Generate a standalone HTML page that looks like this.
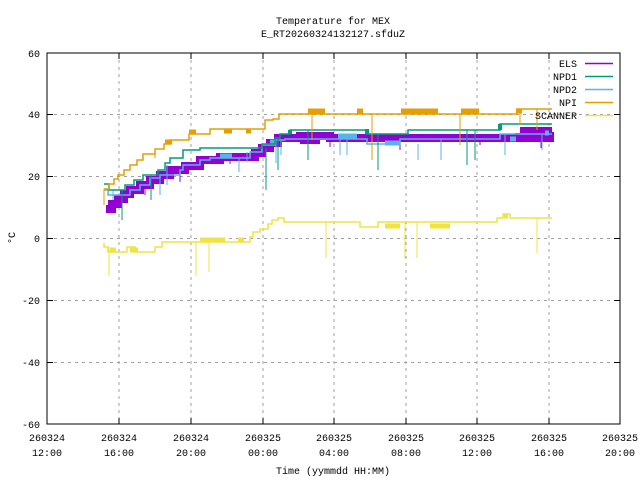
<!DOCTYPE html>
<html><head><meta charset="utf-8"><style>
html,body{margin:0;padding:0;background:#fff}
svg{display:block}
text{font-family:"Liberation Mono","DejaVu Sans Mono",monospace;font-size:10px;fill:#000}
</style></head><body>
<svg width="640" height="480" viewBox="0 0 640 480" xmlns="http://www.w3.org/2000/svg">
<rect width="640" height="480" fill="#fff"/>
<g stroke="#a0a0a0" stroke-dasharray="3,4" stroke-width="1" fill="none">
<path d="M119 53V424M191 53V424M263 53V424M334 53V424M406 53V424M477 53V424M549 53V424"/>
<path d="M47 114.5H620M47 176.5H620M47 238.5H620M47 300.5H620M47 362.5H620"/>
</g>
<g fill="none" stroke-linejoin="miter">
<!-- SCANNER -->
<polyline stroke="#f0e442" stroke-width="1.5" points="104,243 104,247 108,247 108,252 127,252 127,247 135,247 135,252 155,252 155,247 162,247 162,242 250,242 250,237 253,237 253,232 260,232 260,229 268,229 268,224 272,224 272,220 278,220 278,218 284,218 284,222 360,222 360,227 378,227 378,222 497,222 497,218 503,218 503,214 510,214 510,218 552,218"/>
<g stroke="#f0e442" stroke-width="5"><path d="M110 250H116M130 250H138M200 240H225M238 240H244M385 226H400M430 226H450M504 216H508"/></g>
<path stroke="#f0e442" stroke-width="1" d="M109 247V276M196 242V276M209 242V272M326 222V258M405 222V258M417 222V258M537 218V253"/>
<!-- ELS -->
<polyline stroke="#9400d3" stroke-width="8" points="106,209 112,209 112,204 118,204 118,199 124,199 124,194 130,194 130,190 140,190 140,185 150,185 150,180 160,180 160,175 170,175 170,170 185,170 185,166 200,166 200,160 220,160 220,157 255,157 255,153 262,153 262,148 270,148 270,143 278,143 278,138 300,138 300,136 330,136 330,138 550,138 550,132"/>
<g stroke="#9400d3" stroke-width="6"><path d="M515 136H552M300 141H320M520 130H552"/></g>
<path stroke="#9400d3" stroke-width="1" d="M145 185V195M180 170V182M230 157V164M330 136V147M400 140V150M480 140V145M541 138V148"/>
<!-- NPD2 -->
<polyline stroke="#56b4e9" stroke-width="1.5" points="104,190 108,190 108,195 130,195 130,190 140,190 140,185 150,185 150,178 160,178 160,175 180,175 180,170 183,170 183,165 200,165 200,160 210,160 210,158 250,158 250,152 262,152 262,145 275,145 275,140 285,140 285,139 367,139 367,144 400,144 400,139 500,139 500,134 552,134"/>
<g stroke="#56b4e9" stroke-width="5"><path d="M220 156H232M270 142H276M338 136H357M385 143H400M510 139H516M545 133H549"/></g>
<path stroke="#56b4e9" stonce="" stroke-width="1" d="M113 190V200M160 175V195M167 165V185M239 158V172M247 152V162M276 140V163M281 140V155M340 139V155M347 139V155M418 144V160M441 139V160M505 134V155M542 134V150"/>
<!-- NPD1 -->
<polyline stroke="#009e73" stroke-width="1.5" points="104,184 109,184 109,190 125,190 125,185 134,185 134,180 143,180 143,175 158,175 158,170 165,170 165,163 170,163 170,158 183,158 183,150 200,150 200,148 262,148 262,144 275,144 275,138 280,138 280,134 290,134 290,130 367,130 367,134 408,134 408,130 500,130 500,124 552,124"/>
<g stroke="#009e73" stroke-width="4"><path d="M367 129V134M500 124V130M290 130V134"/></g>
<path stroke="#009e73" stroke-width="1" d="M122 190V220M151 175V200M266 148V190M278 138V170M308 130V160M378 134V170M467 130V165M475 130V160"/>
<!-- NPI -->
<polyline stroke="#e69f00" stroke-width="1.5" points="104,189 109,189 109,184 114,184 114,179 118,179 118,175 124,175 124,170 130,170 130,165 137,165 137,160 143,160 143,154 155,154 155,149 164,149 164,144 170,144 170,140 189,140 189,134 210,134 210,129 265,129 265,120 273,120 273,119 279,119 279,114 517,114 517,109 552,109"/>
<g stroke="#e69f00" stroke-width="5"><path d="M165 142H172M189 132H196M224 131H232M246 131H251M308 111H325M357 111H363M401 111H438M461 111H479M516 111H522"/></g>
<path stroke="#e69f00" stroke-width="1" d="M104 189V205M155 149V158M312 114V140M372 114V160M460 114V145M520 109V125M537 109V130"/>
</g>
<rect x="47" y="53" width="573" height="371" fill="none" stroke="#000" stroke-width="1"/>
<g stroke="#000"><path d="M47 114.5h6M47 176.5h6M47 238.5h6M47 300.5h6M47 362.5h6M620 114.5h-6M620 176.5h-6M620 238.5h-6M620 300.5h-6M620 362.5h-6M119 424v-6M191 424v-6M263 424v-6M334 424v-6M406 424v-6M477 424v-6M549 424v-6M119 53v6M191 53v6M263 53v6M334 53v6M406 53v6M477 53v6M549 53v6"/></g>
<g text-anchor="end">
<text x="40" y="57">60</text><text x="40" y="118">40</text><text x="40" y="180">20</text><text x="40" y="242">0</text><text x="40" y="304">-20</text><text x="40" y="366">-40</text><text x="40" y="428">-60</text>
</g>
<g text-anchor="middle">
<text x="47" y="441">260324</text><text x="47" y="456">12:00</text>
<text x="119" y="441">260324</text><text x="119" y="456">16:00</text>
<text x="191" y="441">260324</text><text x="191" y="456">20:00</text>
<text x="263" y="441">260325</text><text x="263" y="456">00:00</text>
<text x="334" y="441">260325</text><text x="334" y="456">04:00</text>
<text x="406" y="441">260325</text><text x="406" y="456">08:00</text>
<text x="477" y="441">260325</text><text x="477" y="456">12:00</text>
<text x="549" y="441">260325</text><text x="549" y="456">16:00</text>
<text x="620" y="441">260325</text><text x="620" y="456">20:00</text>
<text x="333" y="474">Time (yymmdd HH:MM)</text>
<text x="333" y="24">Temperature for MEX</text>
<text x="333" y="37">E_RT20260324132127.sfduZ</text>
<text x="0" y="0" transform="translate(15,238) rotate(-90)">°C</text>
</g>
<g text-anchor="end">
<text x="577" y="67">ELS</text><text x="577" y="80">NPD1</text><text x="577" y="93">NPD2</text><text x="577" y="106">NPI</text><text x="577" y="119">SCANNER</text>
</g>
<g stroke-width="1.5"><path stroke="#9400d3" d="M585 63.5H613"/><path stroke="#009e73" d="M585 76.5H613"/><path stroke="#56b4e9" d="M585 89.5H613"/><path stroke="#e69f00" d="M585 102.5H613"/><path stroke="#f0e442" d="M585 115.5H613"/></g>
</svg>
</body></html>
